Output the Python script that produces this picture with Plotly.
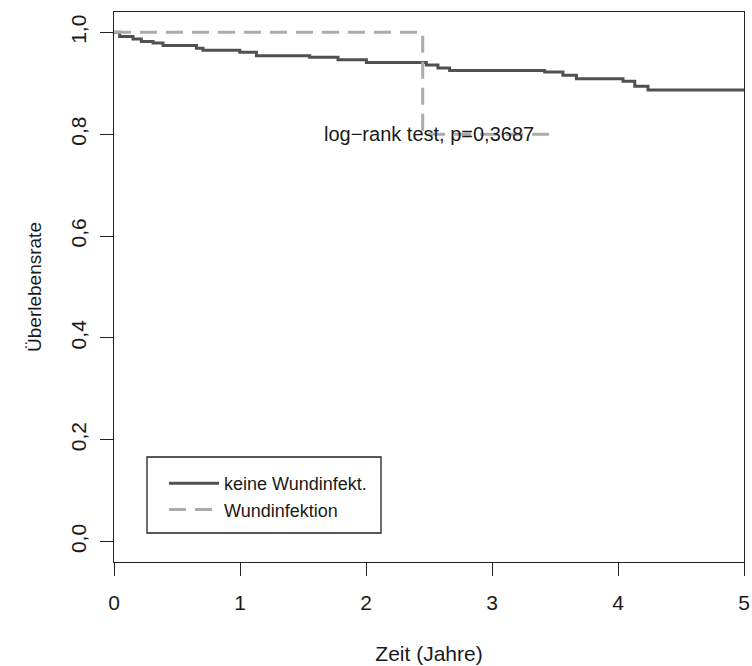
import plotly.graph_objects as go

# Kaplan-Meier step data (time in years, survival probability)
zeit_keine = [0.0, 0.045, 0.151, 0.217, 0.310, 0.389, 0.654, 0.706, 0.998, 1.13,
              1.553, 1.778, 2.003, 2.479, 2.571, 2.664, 3.418, 3.563, 3.670,
              4.040, 4.133, 4.238, 5.0]
surv_keine = [1.0, 0.992, 0.987, 0.982, 0.979, 0.974, 0.969, 0.965, 0.961, 0.954,
              0.951, 0.946, 0.941, 0.936, 0.930, 0.925, 0.922, 0.916, 0.909,
              0.904, 0.894, 0.887, 0.887]

zeit_infekt = [0.0, 2.45, 3.48]
surv_infekt = [1.0, 0.8, 0.8]

gruppen = ["keine Wundinfekt.", "Wundinfektion"]

y_ticks = [0.0, 0.2, 0.4, 0.6, 0.8, 1.0]
y_ticktext = ["0,0", "0,2", "0,4", "0,6", "0,8", "1,0"]
x_ticks = [0, 1, 2, 3, 4, 5]

test_text = "log\u2212rank test, p=0,3687"
test_pos = (2.5, 0.8)

FONT = "Liberation Sans, Arial, sans-serif"
TXT = "#1a1a1a"

# plot-area geometry in pixels (used for legend placement in paper units)
W, H = 752, 666
ML, MR, MT, MB = 114, 8, 12, 104
PW, PH = W - ML - MR, H - MT - MB


def px_x(px):
    return (px - ML) / PW


def px_y(py):
    return (H - MB - py) / PH


fig = go.Figure()
fig.add_trace(go.Scatter(
    x=zeit_keine, y=surv_keine, mode="lines", line_shape="hv",
    name=gruppen[0], line=dict(color="#505050", width=3)))
fig.add_trace(go.Scatter(
    x=zeit_infekt, y=surv_infekt, mode="lines", line_shape="hv",
    name=gruppen[1], line=dict(color="#ababab", width=3, dash="17px,9px")))

fig.add_annotation(
    x=test_pos[0], y=test_pos[1], text=test_text, showarrow=False,
    xanchor="center", yanchor="middle",
    font=dict(family=FONT, size=20, color=TXT))

# legend frame
fig.add_shape(type="rect", xref="paper", yref="paper",
              x0=px_x(147), x1=px_x(381), y0=px_y(533), y1=px_y(457),
              line=dict(color="#222222", width=1.3), fillcolor="white", layer="below")

fig.update_layout(
    width=W, height=H,
    margin=dict(l=ML, r=MR, t=MT, b=MB),
    paper_bgcolor="white", plot_bgcolor="white",
    showlegend=True,
    legend=dict(
        x=px_x(164), y=px_y(465),
        xanchor="left", yanchor="top",
        bgcolor="rgba(0,0,0,0)", borderwidth=0,
        font=dict(family=FONT, size=18, color=TXT),
        itemwidth=50, tracegroupgap=0),
    xaxis=dict(
        range=[0, 5], tickvals=x_ticks, ticks="outside", ticklen=13,
        tickwidth=1, tickcolor="#222", showline=True, linecolor="#222",
        linewidth=1.3, mirror=True, showgrid=False, zeroline=False,
        automargin=False, ticklabelstandoff=9,
        tickfont=dict(family=FONT, size=21, color=TXT),
        title=dict(text="Zeit (Jahre)", standoff=32,
                   font=dict(family=FONT, size=21, color=TXT))),
    yaxis=dict(
        range=[-0.04, 1.04], tickvals=y_ticks, ticktext=y_ticktext,
        tickangle=-90, ticks="outside", ticklen=13, tickwidth=1,
        tickcolor="#222", showline=True, linecolor="#222", linewidth=1.3,
        mirror=True, showgrid=False, zeroline=False,
        automargin=False, ticklabelstandoff=5,
        tickfont=dict(family=FONT, size=21, color=TXT),
        title=dict(text="Überlebensrate", standoff=20,
                   font=dict(family=FONT, size=19, color=TXT))),
)

fig.write_html("out.html")
